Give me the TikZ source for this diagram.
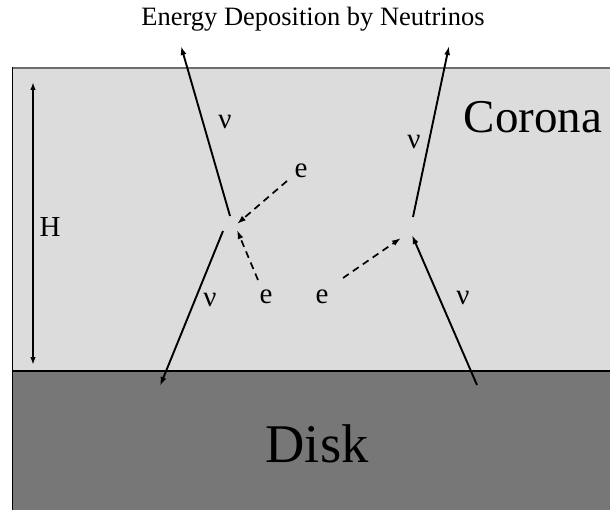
\documentclass[tikz,border=0pt]{standalone}
\usepackage{fontspec}
\setmainfont{Liberation Serif}
\usetikzlibrary{arrows.meta}
\definecolor{coronagray}{HTML}{DCDCDC}
\definecolor{diskgray}{HTML}{777777}
\definecolor{edgegray}{HTML}{6E6E6E}
\tikzset{
  nuline/.style={line width=1.9pt,-{Latex[length=9pt,width=6pt]}},
  eline/.style={line width=1.7pt,dash pattern=on 7pt off 5pt,-{Latex[length=9pt,width=6pt]}},
  lbl/.style={inner sep=0pt,font=\fontsize{29}{31}\selectfont},
}
\begin{document}
\begin{tikzpicture}[x=1pt,y=-1pt]
\useasboundingbox (0,0) rectangle (610,510);
% regions
\fill[coronagray] (12,68) rectangle (610,371);
\fill[diskgray] (12,371) rectangle (610,510);
\draw[edgegray,line width=2pt] (12,68) -- (610,68);
\draw[black,line width=1pt] (12,67) -- (12,510);
\draw[black,line width=1.2pt] (12,371) -- (610,371);
% texts
\node[inner sep=0pt,anchor=base,font=\fontsize{26.5}{29}\selectfont] (title) at (313,26) {Energy Deposition by Neutrinos};
\node[inner sep=0pt,anchor=base,font=\fontsize{47}{50}\selectfont] (corona) at (533,133) {Corona};
\node[inner sep=0pt,anchor=base,font=\fontsize{54.5}{57}\selectfont] (disk) at (317,462) {Disk};
\node[lbl] (H) at (50,227) {H};
\node[lbl] (nu1) at (225,122) {ν};
\node[lbl] (e1) at (301,171) {e};
\node[lbl] (nu2) at (210,300) {ν};
\node[lbl] (e2) at (266,297) {e};
\node[lbl] (e3) at (322,297) {e};
\node[lbl] (nu3) at (414,142) {ν};
\node[lbl] (nu4) at (463,298) {ν};
% coordinates
\coordinate (Htop) at (33,82);
\coordinate (Hbot) at (33,365);
\coordinate (a1) at (230,216);
\coordinate (a1t) at (181,46);
\coordinate (a2) at (223,231);
\coordinate (a2t) at (160,386);
\coordinate (d1) at (287,181);
\coordinate (d1t) at (237,224);
\coordinate (d2) at (258,280);
\coordinate (d2t) at (237,230);
\coordinate (b1) at (413,217);
\coordinate (b1t) at (449,46);
\coordinate (b2) at (477,385);
\coordinate (b2t) at (412,235);
\coordinate (d3) at (343,278);
\coordinate (d3t) at (401,238);
% arrows
\draw[line width=1.7pt,{Latex[length=8pt,width=5.5pt]}-{Latex[length=8pt,width=5.5pt]}] (Htop) -- (Hbot);
\draw[nuline] (a1) -- (a1t);
\draw[nuline] (a2) -- (a2t);
\draw[nuline] (b1) -- (b1t);
\draw[nuline] (b2) -- (b2t);
\draw[eline] (d1) -- (d1t);
\draw[eline] (d2) -- (d2t);
\draw[eline] (d3) -- (d3t);
\end{tikzpicture}
\end{document}
